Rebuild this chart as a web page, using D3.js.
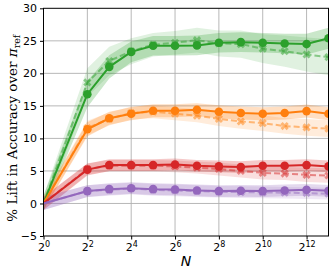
<!DOCTYPE html>
<html>
<head>
<meta charset="utf-8">
<script src="https://cdn.jsdelivr.net/npm/d3@7"></script>
<style>
  body { margin: 0; background: #fff; }
  svg { display: block; }
</style>
</head>
<body>
<div id="chart"></div>
<script>
// N values (powers of two)
const nVals = [1, 4, 8, 16, 32, 64, 128, 256, 512, 1024, 2048, 4096, 8192]

// solid series (circle markers)
const greenSolid  = [0, 16.8, 21.0, 23.3, 24.25, 24.25, 24.3, 24.7, 24.8, 24.7, 24.6, 24.5, 25.4]
const orangeSolid = [0, 11.4, 13.1, 13.8, 14.25, 14.25, 14.4, 14.1, 13.9, 13.8, 13.9, 14.2, 13.8]
const redSolid    = [0, 5.2, 5.9, 5.9, 5.9, 6.0, 5.8, 5.7, 5.6, 5.8, 5.8, 5.9, 5.7]
const purpleSolid = [0, 1.9, 2.2, 2.35, 2.2, 2.15, 2.0, 1.9, 1.95, 1.9, 2.0, 2.1, 1.95]

// dashed series (X markers)
const greenDashed  = [0, 18.6, 21.9, 23.4, 24.4, 24.7, 25.1, 24.6, 24.5, 23.8, 23.4, 22.9, 22.5]
const orangeDashed = [0, 11.6, 13.0, 13.9, 14.1, 13.8, 13.5, 13.0, 12.6, 12.35, 11.9, 11.7, 11.5]
const redDashed    = [0, 5.3, 5.8, 5.8, 5.8, 5.7, 5.5, 5.3, 5.0, 4.7, 4.6, 4.4, 4.3]
const purpleDashed = [0, 1.9, 2.1, 2.3, 2.1, 2.0, 1.9, 1.8, 1.75, 1.7, 1.65, 1.6, 1.5]

// half-width of shaded bands
const greenSpread       = [1.2, 2.0, 1.8, 1.6, 1.5, 1.5, 1.5, 1.5, 1.5, 1.5, 1.5, 1.6, 1.6]
const greenDashSpread   = [1.2, 2.2, 2.2, 2.0, 1.8, 1.8, 1.9, 2.0, 2.1, 2.2, 2.4, 2.6, 2.8]
const orangeSpread      = [1.0, 1.1, 1.0, 1.0, 1.0, 1.0, 1.0, 1.0, 1.0, 1.0, 1.0, 1.0, 1.0]
const orangeDashSpread  = [1.0, 1.1, 1.0, 1.0, 1.0, 1.0, 1.0, 1.1, 1.1, 1.2, 1.2, 1.3, 1.3]
const redSpread         = [1.0, 0.9, 0.9, 0.9, 0.9, 0.9, 0.9, 0.9, 0.9, 0.9, 0.9, 0.9, 0.9]
const redDashSpread     = [1.0, 0.9, 0.9, 0.9, 0.9, 0.9, 0.9, 1.0, 1.0, 1.0, 1.0, 1.1, 1.1]
const purpleSpread      = [1.0, 0.9, 0.9, 0.9, 0.9, 0.9, 0.9, 0.9, 0.9, 0.9, 0.9, 0.9, 0.9]
const purpleDashSpread  = [1.0, 0.9, 0.9, 0.9, 0.9, 0.9, 0.9, 0.9, 0.9, 0.9, 0.9, 0.9, 0.9]

const xTickExps = [0, 2, 4, 6, 8, 10, 12]
const yTicks = [-5, 0, 5, 10, 15, 20, 25, 30]

const series = [
    { color: '#2ca02c', solid: greenSolid, dashed: greenDashed, s: greenSpread, ds: greenDashSpread },
    { color: '#ff7f0e', solid: orangeSolid, dashed: orangeDashed, s: orangeSpread, ds: orangeDashSpread },
    { color: '#d62728', solid: redSolid, dashed: redDashed, s: redSpread, ds: redDashSpread },
    { color: '#9467bd', solid: purpleSolid, dashed: purpleDashed, s: purpleSpread, ds: purpleDashSpread }
]

const width = 332
const height = 273
const margin = { top: 8.3, right: 3.5, bottom: 37, left: 43.5 }
const w = width - margin.left - margin.right
const h = height - margin.top - margin.bottom

const svg = d3.select('#chart').append('svg')
    .attr('width', width)
    .attr('height', height)

const g = svg.append('g').attr('transform', `translate(${margin.left},${margin.top})`)

const x = d3.scaleLog().base(2).domain([1, 8192]).range([0, w])
const y = d3.scaleLinear().domain([-5, 30]).range([h, 0])

svg.append('defs').append('clipPath').attr('id', 'clip')
    .append('rect').attr('width', w).attr('height', h)

// grid
g.append('g').selectAll('line.vg')
    .data(xTickExps.slice(1))
    .join('line')
    .attr('x1', d => x(Math.pow(2, d))).attr('x2', d => x(Math.pow(2, d)))
    .attr('y1', 0).attr('y2', h)
    .style('stroke', '#b0b0b0').style('stroke-width', 0.9)
g.append('g').selectAll('line.hg')
    .data(yTicks.slice(1, -1))
    .join('line')
    .attr('x1', 0).attr('x2', w)
    .attr('y1', d => y(d)).attr('y2', d => y(d))
    .style('stroke', '#b0b0b0').style('stroke-width', 0.9)

const plot = g.append('g').attr('clip-path', 'url(#clip)')

const area = (vals, spr) => d3.area()
    .x((d, i) => x(nVals[i]))
    .y0((d, i) => y(vals[i] - spr[i]))
    .y1((d, i) => y(vals[i] + spr[i]))(vals)
const line = d3.line().x((d, i) => x(nVals[i])).y(d => y(d))

const xMark = d3.symbol().type(d3.symbolCross).size(42)

series.forEach(sr => {
    plot.append('path').attr('d', area(sr.dashed, sr.ds))
        .style('fill', sr.color).style('opacity', 0.15)
    plot.append('path').attr('d', area(sr.solid, sr.s))
        .style('fill', sr.color).style('opacity', 0.25)
})

series.forEach(sr => {
    // dashed
    plot.append('path').attr('d', line(sr.dashed))
        .style('fill', 'none').style('stroke', sr.color).style('stroke-width', 2)
        .style('stroke-dasharray', '6,3').style('opacity', 0.5)
    plot.append('g').selectAll('path')
        .data(sr.dashed.slice(1))
        .join('path')
        .attr('d', xMark)
        .attr('transform', (d, i) => `translate(${x(nVals[i + 1])},${y(d)}) rotate(45)`)
        .style('fill', sr.color).style('opacity', 0.5)
    // solid
    plot.append('path').attr('d', line(sr.solid))
        .style('fill', 'none').style('stroke', sr.color).style('stroke-width', 2)
    plot.append('g').selectAll('circle')
        .data(sr.solid.slice(1))
        .join('circle')
        .attr('cx', (d, i) => x(nVals[i + 1]))
        .attr('cy', d => y(d))
        .attr('r', 4.3)
        .style('fill', sr.color)
})

// frame
g.append('rect').attr('width', w).attr('height', h)
    .style('fill', 'none').style('stroke', '#000').style('stroke-width', 1)

// y axis
const yAxis = g.append('g')
    .call(d3.axisLeft(y).tickValues(yTicks).tickSize(3.5).tickPadding(3)
        .tickFormat(d => d < 0 ? '\u2212' + Math.abs(d) : d))
yAxis.select('.domain').remove()
yAxis.selectAll('text').style('font-family', 'DejaVu Sans').style('font-size', '11px').style('fill', '#000')

// x axis
const xAxis = g.append('g').attr('transform', `translate(0,${h})`)
    .call(d3.axisBottom(x).tickValues(xTickExps.map(e => Math.pow(2, e))).tickSize(3.5).tickPadding(2).tickFormat(''))
xAxis.select('.domain').remove()
xAxis.selectAll('.tick').each(function (d) {
    const t = d3.select(this).append('text')
        .attr('y', 15)
        .attr('text-anchor', 'middle')
        .style('font-family', 'DejaVu Sans').style('font-size', '11px').style('fill', '#000')
    t.append('tspan').text('2')
    t.append('tspan').attr('dy', -4.5).style('font-size', '8px').text(Math.round(Math.log2(d)))
})

// axis labels
svg.append('text')
    .attr('x', margin.left + w / 2)
    .attr('y', 266)
    .attr('text-anchor', 'middle')
    .style('font-family', 'DejaVu Sans').style('font-style', 'italic').style('font-size', '14px')
    .text('N')

const yl = svg.append('text')
    .attr('transform', `translate(17,${margin.top + h / 2 + 6}) rotate(-90)`)
    .attr('text-anchor', 'middle')
    .style('font-family', 'DejaVu Serif').style('font-size', '13.5px')
yl.append('tspan').text('% Lift in Accuracy over ')
yl.append('tspan').style('font-style', 'italic').text('\u03c0')
yl.append('tspan').attr('dy', 3).style('font-size', '9.5px').text('ref')
</script>
</body>
</html>
